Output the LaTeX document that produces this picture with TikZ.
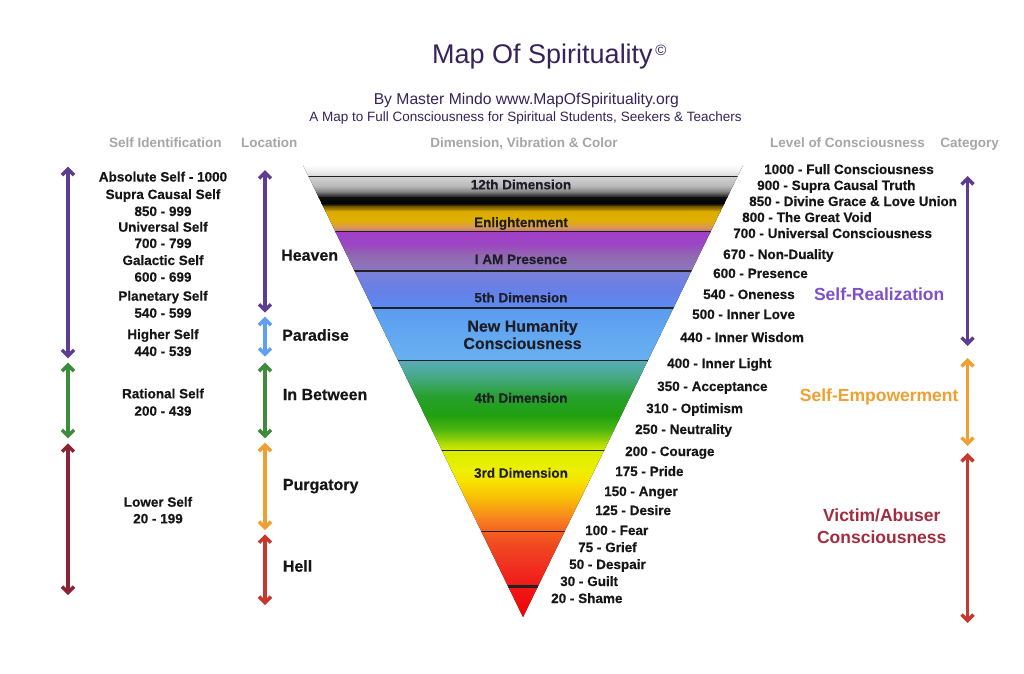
\documentclass[tikz,border=0pt]{standalone}
\usepackage{fontspec}
\setmainfont{Liberation Sans}
\newfontfamily\hvy{Liberation Sans}[BoldFeatures={FakeBold=0.4}]
\usetikzlibrary{arrows.meta}
\definecolor{titlec}{HTML}{36235A}
\definecolor{hdrc}{HTML}{A6A6A6}
\definecolor{labc}{HTML}{161616}
\definecolor{tric}{HTML}{1E1E28}
\definecolor{aPurple}{HTML}{5C3D8F}
\definecolor{aGreen}{HTML}{3C8C3C}
\definecolor{aDarkRed}{HTML}{8B2332}
\definecolor{aBlue}{HTML}{5FA0F5}
\definecolor{aOrange}{HTML}{F0A030}
\definecolor{aRed}{HTML}{C8372D}
\definecolor{cPurple}{HTML}{8050C8}
\definecolor{cOrange}{HTML}{F0A030}
\definecolor{cRed}{HTML}{A32D3F}
\definecolor{divc}{HTML}{222222}
% gradient stops
\definecolor{s01}{HTML}{FFFFFF}
\definecolor{s02}{HTML}{E6E6E6}
\definecolor{s03}{HTML}{D0D0D0}
\definecolor{s04}{HTML}{B8B8B8}
\definecolor{s05}{HTML}{7A7A7A}
\definecolor{s06}{HTML}{101010}
\definecolor{s07}{HTML}{000000}
\definecolor{s08}{HTML}{6A5200}
\definecolor{s09}{HTML}{DDAA00}
\definecolor{s10}{HTML}{E0B000}
\definecolor{s11}{HTML}{D89858}
\definecolor{s12}{HTML}{C07080}
\definecolor{s13}{HTML}{A040C8}
\definecolor{s14}{HTML}{9C44C4}
\definecolor{s15}{HTML}{9268B0}
\definecolor{s16}{HTML}{8A78C0}
\definecolor{s17}{HTML}{7A80D8}
\definecolor{s18}{HTML}{6680E8}
\definecolor{s19}{HTML}{5A8AF0}
\definecolor{s20}{HTML}{5C9CF0}
\definecolor{s21}{HTML}{62A8F0}
\definecolor{s22}{HTML}{68B0F0}
\definecolor{s23}{HTML}{58ACB8}
\definecolor{s24}{HTML}{44A880}
\definecolor{s25}{HTML}{28A030}
\definecolor{s26}{HTML}{20A010}
\definecolor{s27}{HTML}{50B810}
\definecolor{s28}{HTML}{A8D808}
\definecolor{s29}{HTML}{D8EC00}
\definecolor{s30}{HTML}{EEF000}
\definecolor{s31}{HTML}{F8E000}
\definecolor{s32}{HTML}{F8B808}
\definecolor{s33}{HTML}{F88420}
\definecolor{s34}{HTML}{F46020}
\definecolor{s35}{HTML}{F04820}
\definecolor{s36}{HTML}{F03020}
\definecolor{s37}{HTML}{F01818}
\definecolor{s38}{HTML}{F00000}
\newcommand{\band}[4]{\fill[top color=#3,bottom color=#4] (296,#1) rectangle (750,#2+0.7);}
\begin{document}
\begin{tikzpicture}[x=1pt,y=-1pt,
  lbl/.style={font=\fontsize{13.5}{16}\selectfont\hvy\bfseries, text=labc, inner sep=0pt},
  hdr/.style={font=\fontsize{13.5}{16}\selectfont\bfseries, text=hdrc, inner sep=0pt, anchor=base},
  loc/.style={font=\fontsize{16}{19}\selectfont\hvy\bfseries, text=labc, inner sep=0pt, anchor=base west},
  tri/.style={font=\fontsize{13.5}{16}\selectfont\hvy\bfseries, text=tric, inner sep=0pt, anchor=base},
  bigtri/.style={font=\fontsize{16}{19}\selectfont\hvy\bfseries, text=tric, inner sep=0pt, anchor=base},
  cat/.style={font=\fontsize{17.5}{21}\selectfont\bfseries, inner sep=0pt, anchor=base},
  rng/.style={line width=3.4pt, {Straight Barb[length=6pt,width=12pt]}-{Straight Barb[length=6pt,width=12pt]}},
  divider/.style={draw=divc, line width=1.6pt}]
\useasboundingbox (0,0) rectangle (1024,673);
\fill[white] (0,0) rectangle (1024,673);

% ---------- Title ----------
\node[inner sep=0pt, anchor=base west, text=titlec, font=\fontsize{27}{30}\selectfont] (title) at (432,63.3)
  {Map Of Spirituality\raisebox{8pt}{\fontsize{15}{15}\selectfont\,©}};
\node[inner sep=0pt, anchor=base, text=titlec, font=\fontsize{15.7}{18}\selectfont] (byline) at (526.3,104)
  {By Master Mindo www.MapOfSpirituality.org};
\node[inner sep=0pt, anchor=base, text=titlec, font=\fontsize{13.5}{16}\selectfont] (subtitle) at (525.5,121.7)
  {A Map to Full Consciousness for Spiritual Students, Seekers \& Teachers};

% ---------- Headers ----------
\node[hdr] (hSelf) at (165.4,147.3) {Self Identification};
\node[hdr] (hLoc) at (269.2,147.3) {Location};
\node[hdr] (hDim) at (524,147.3) {Dimension, Vibration \& Color};
\node[hdr] (hLev) at (847.5,147.3) {Level of Consciousness};
\node[hdr] (hCat) at (969.7,147.3) {Category};

% ---------- Triangle ----------
\begin{scope}
\clip (303,165) -- (743,165) -- (523,617) -- cycle;
\band{165}{173}{s01}{s02}
\band{173}{177}{s02}{s03}
\band{177}{186}{s03}{s04}
\band{186}{192}{s04}{s05}
\band{192}{197}{s05}{s06}
\band{197}{203}{s06}{s07}
\band{203}{206}{s07}{s08}
\band{206}{211}{s08}{s09}
\band{211}{220}{s09}{s10}
\band{220}{227}{s10}{s11}
\band{227}{231}{s11}{s12}
\band{231}{232}{s12}{s13}
\band{232}{243}{s13}{s14}
\band{243}{255}{s14}{s15}
\band{255}{270}{s15}{s16}
\band{270}{272}{s16}{s17}
\band{272}{290}{s17}{s18}
\band{290}{307}{s18}{s19}
\band{307}{309}{s19}{s20}
\band{309}{335}{s20}{s21}
\band{335}{359}{s21}{s22}
\band{359}{361}{s22}{s23}
\band{361}{378}{s23}{s24}
\band{378}{395}{s24}{s25}
\band{395}{415}{s25}{s26}
\band{415}{430}{s26}{s27}
\band{430}{442}{s27}{s28}
\band{442}{450}{s28}{s29}
\band{450}{470}{s29}{s30}
\band{470}{482}{s30}{s31}
\band{482}{500}{s31}{s32}
\band{500}{518}{s32}{s33}
\band{518}{531}{s33}{s34}
\band{531}{545}{s34}{s35}
\band{545}{565}{s35}{s36}
\band{565}{587}{s36}{s37}
\band{587}{620}{s37}{s38}
% dividers
\draw[divider, line width=1.5pt] (290,176.5) -- (760,176.5);
\draw[divider, line width=1.3pt] (290,231.5) -- (760,231.5);
\draw[divider, line width=1.3pt] (290,271) -- (760,271);
\draw[divider, line width=1.9pt] (290,308) -- (760,308);
\draw[divider, line width=1.9pt] (290,360.5) -- (760,360.5);
\draw[divider, line width=1.2pt] (290,450.5) -- (760,450.5);
\draw[divider, line width=1.9pt] (290,531.5) -- (760,531.5);
\draw[divider, line width=2.3pt] (290,586.5) -- (760,586.5);
\end{scope}

\node[tri] (d12) at (521,189.3) {12th Dimension};
\node[tri] (enl) at (521,227) {Enlightenment};
\node[tri] (iam) at (521,264) {I AM Presence};
\node[tri] (d5) at (521,302.3) {5th Dimension};
\node[bigtri] (nh1) at (522.5,331.7) {New Humanity};
\node[bigtri] (nh2) at (522.5,349) {Consciousness};
\node[tri] (d4) at (521,402.7) {4th Dimension};
\node[tri] (d3) at (521,477.7) {3rd Dimension};

% ---------- Self identification ----------
\foreach \yy/\tt/\nn in {181.5/{Absolute Self - 1000}/s1, 199/{Supra Causal Self}/s2, 216/{850 - 999}/s3,
  231.7/{Universal Self}/s4, 248/{700 - 799}/s5, 265/{Galactic Self}/s6, 281.7/{600 - 699}/s7,
  300.7/{Planetary Self}/s8, 317.7/{540 - 599}/s9, 339/{Higher Self}/s10, 356/{440 - 539}/s11,
  398.3/{Rational Self}/s12, 415.7/{200 - 439}/s13}
  \node[lbl, anchor=base] (self\nn) at (163,\yy) {\tt};
\node[lbl, anchor=base] (selfLow1) at (158,506.7) {Lower Self};
\node[lbl, anchor=base] (selfLow2) at (158,523.3) {20 - 199};

\coordinate (lA1) at (68,166.7); \coordinate (lA2) at (68,358.3);
\coordinate (lB1) at (68,362.7); \coordinate (lB2) at (68,438.3);
\coordinate (lC1) at (68,443.3); \coordinate (lC2) at (68,595);
\draw[rng, aPurple] (lA1) -- (lA2);
\draw[rng, aGreen] (lB1) -- (lB2);
\draw[rng, aDarkRed] (lC1) -- (lC2);

% ---------- Location ----------
\coordinate (mA1) at (265,170); \coordinate (mA2) at (265,312.7);
\coordinate (mB1) at (265,316.7); \coordinate (mB2) at (265,356.7);
\coordinate (mC1) at (265,362.7); \coordinate (mC2) at (265,438.3);
\coordinate (mD1) at (265,442.7); \coordinate (mD2) at (265,530);
\coordinate (mE1) at (265,534.3); \coordinate (mE2) at (265,605);
\draw[rng, aPurple] (mA1) -- (mA2);
\draw[rng, aBlue] (mB1) -- (mB2);
\draw[rng, aGreen] (mC1) -- (mC2);
\draw[rng, aOrange] (mD1) -- (mD2);
\draw[rng, aRed] (mE1) -- (mE2);

\node[loc] (heaven) at (281,260.7) {Heaven};
\node[loc] (paradise) at (282,340.7) {Paradise};
\node[loc] (between) at (282.7,400) {In Between};
\node[loc] (purgatory) at (282.7,490) {Purgatory};
\node[loc] (hell) at (282.7,571.7) {Hell};

% ---------- Levels of consciousness ----------
\foreach \xx/\yy/\tt/\nn in {764/169/{1000 - Full Consciousness}/a, 757/185/{900 - Supra Causal Truth}/b,
  749/201/{850 - Divine Grace \& Love Union}/c, 742/217/{800 - The Great Void}/d,
  733/233/{700 - Universal Consciousness}/e, 723/254/{670 - Non-Duality}/f,
  713/273/{600 - Presence}/g, 703/294/{540 - Oneness}/h, 692/314/{500 - Inner Love}/i,
  680/337/{440 - Inner Wisdom}/j, 667/363/{400 - Inner Light}/k, 657/386/{350 - Acceptance}/l,
  646/408/{310 - Optimism}/m, 635/429/{250 - Neutrality}/n, 625/451/{200 - Courage}/o,
  615/471/{175 - Pride}/p, 604/491/{150 - Anger}/q, 595/510/{125 - Desire}/r,
  585/530/{100 - Fear}/s, 578/547/{75 - Grief}/t, 569/564/{50 - Despair}/u,
  560/581/{30 - Guilt}/v, 551/598/{20 - Shame}/w}
  \node[lbl, anchor=base west] (lev\nn) at (\xx,\yy+5) {\tt};

% ---------- Categories ----------
\node[cat, text=cPurple] (catSR) at (879.2,300.7) {Self-Realization};
\node[cat, text=cOrange] (catSE) at (879.2,401.7) {Self-Empowerment};
\node[cat, text=cRed] (catV1) at (881.7,521.7) {Victim/Abuser};
\node[cat, text=cRed] (catV2) at (881.7,543.3) {Consciousness};

\coordinate (cA1) at (967.5,176); \coordinate (cA2) at (967.5,346);
\coordinate (cB1) at (967.5,358); \coordinate (cB2) at (967.5,446);
\coordinate (cC1) at (967.5,453); \coordinate (cC2) at (967.5,623);
\draw[rng, aPurple] (cA1) -- (cA2);
\draw[rng, aOrange] (cB1) -- (cB2);
\draw[rng, aRed] (cC1) -- (cC2);
\end{tikzpicture}
\end{document}
